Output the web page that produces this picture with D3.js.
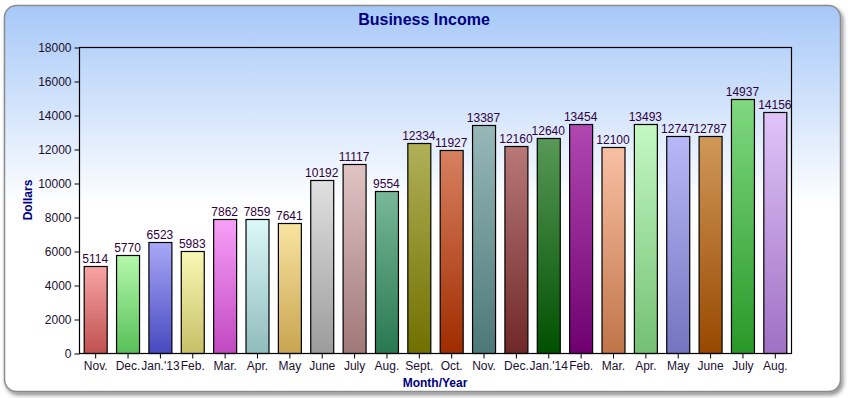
<!DOCTYPE html>
<html>
<head>
<meta charset="utf-8">
<script src="https://cdn.jsdelivr.net/npm/d3@7"></script>
<style>
  body { margin: 0; background: #fff; }
  text { font-family: "Liberation Sans", Arial, sans-serif; }
</style>
</head>
<body>
<script>
// chart data
const months = ['Nov.', 'Dec.', "Jan.'13", 'Feb.', 'Mar.', 'Apr.', 'May', 'June', 'July', 'Aug.', 'Sept.',
  'Oct.', 'Nov.', 'Dec.', "Jan.'14", 'Feb.', 'Mar.', 'Apr.', 'May', 'June', 'July', 'Aug.'];
const income = [5114, 5770, 6523, 5983, 7862, 7859, 7641, 10192, 11117, 9554, 12334,
  11927, 13387, 12160, 12640, 13454, 12100, 13493, 12747, 12787, 14937, 14156];
const topColors = ['#f8a4a4', '#b4f8ac', '#a8a8f8', '#f8f8b4', '#f8a0f8', '#dcf8f8', '#f8e4a0', '#e0e0e0',
  '#e0c4c4', '#78b898', '#b0b058', '#d88060', '#98b8b8', '#b87878', '#589858', '#b048b0', '#f8c0a4', '#c4f8c4',
  '#b8b8f8', '#d09858', '#80d880', '#e0c4f8'];
const bottomColors = ['#c05050', '#58c058', '#4848c0', '#c8c068', '#c048c0', '#90bcbc', '#c8a450', '#9c9c9c',
  '#a07878', '#287850', '#707000', '#a02c00', '#4c7878', '#702828', '#005000', '#700070', '#c07448', '#74c074',
  '#7474c0', '#984800', '#289828', '#a070c4'];
const yTicks = d3.range(0, 18001, 2000);

const width = 848, height = 398;
const plot = {left: 79, right: 791, top: 47, bottom: 353};

const svg = d3.select('body').append('svg').attr('width', width).attr('height', height);
const defs = svg.append('defs');

const bg = defs.append('linearGradient').attr('id', 'bg').attr('x1', 0).attr('y1', 0).attr('x2', 0).attr('y2', 1);
bg.append('stop').attr('offset', '0%').attr('stop-color', '#a6c8f8');
bg.append('stop').attr('offset', '52%').attr('stop-color', '#ffffff');
bg.append('stop').attr('offset', '100%').attr('stop-color', '#ffffff');

const shadow = defs.append('filter').attr('id', 'shadow').attr('x', '-5%').attr('y', '-5%')
  .attr('width', '110%').attr('height', '115%');
shadow.append('feDropShadow').attr('dx', 2).attr('dy', 3).attr('stdDeviation', 2)
  .attr('flood-color', '#000').attr('flood-opacity', 0.45);

months.forEach((m, i) => {
  const g = defs.append('linearGradient').attr('id', 'bar' + i)
    .attr('x1', 0).attr('y1', 0).attr('x2', 0).attr('y2', 1);
  g.append('stop').attr('offset', '0%').attr('stop-color', topColors[i]);
  g.append('stop').attr('offset', '100%').attr('stop-color', bottomColors[i]);
});

// panel
svg.append('rect')
  .attr('x', 4.5).attr('y', 5.5).attr('width', 836).attr('height', 386)
  .attr('rx', 12).attr('ry', 12)
  .attr('fill', 'url(#bg)').attr('stroke', '#8c8c8c').attr('stroke-width', 1.5)
  .attr('filter', 'url(#shadow)');

svg.append('text')
  .attr('x', 424).attr('y', 25)
  .attr('text-anchor', 'middle')
  .attr('font-size', 16).attr('font-weight', 'bold').attr('fill', '#000080')
  .text('Business Income');

const x = d3.scaleBand()
  .domain(d3.range(months.length))
  .range([plot.left, plot.right])
  .paddingInner(0.29).paddingOuter(0.145);

const y = d3.scaleLinear()
  .domain([0, 18000])
  .range([plot.bottom, plot.top]);

const $bars = svg.append('g');
$bars.selectAll('rect').data(income).enter().append('rect')
  .attr('x', (d, i) => x(i) + 0.5)
  .attr('y', d => Math.round(y(d)) + 0.5)
  .attr('width', x.bandwidth())
  .attr('height', d => plot.bottom - Math.round(y(d)))
  .attr('fill', (d, i) => `url(#bar${i})`)
  .attr('stroke', '#000').attr('stroke-width', 1.2);

$bars.selectAll('text').data(income).enter().append('text')
  .attr('x', (d, i) => x(i) + x.bandwidth() / 2)
  .attr('y', d => y(d) - 3)
  .attr('text-anchor', 'middle')
  .attr('font-size', 12).attr('fill', '#300040')
  .text(d => d);

// frame
svg.append('rect')
  .attr('x', plot.left + 0.5).attr('y', plot.top + 0.5)
  .attr('width', plot.right - plot.left).attr('height', plot.bottom - plot.top)
  .attr('fill', 'none').attr('stroke', '#000').attr('stroke-width', 1.2);

const yAxis = d3.axisLeft(y).tickValues(yTicks).tickSize(5).tickPadding(3).tickFormat(d3.format('d'));
svg.append('g')
  .attr('transform', `translate(${plot.left + 0.5},0.5)`)
  .call(yAxis)
  .call(g => g.select('.domain').remove())
  .call(g => g.selectAll('text').attr('font-size', 12).attr('fill', '#201030').style('font-family', '"Liberation Sans", Arial, sans-serif'));

const xAxis = d3.axisBottom(x).tickSize(5).tickPadding(3).tickFormat(i => months[i]);
svg.append('g')
  .attr('transform', `translate(0.5,${plot.bottom + 0.5})`)
  .call(xAxis)
  .call(g => g.select('.domain').remove())
  .call(g => g.selectAll('text').attr('font-size', 12).attr('fill', '#201030').style('font-family', '"Liberation Sans", Arial, sans-serif'));

svg.append('text')
  .attr('transform', 'translate(32,200) rotate(-90)')
  .attr('text-anchor', 'middle')
  .attr('font-size', 12).attr('font-weight', 'bold').attr('fill', '#000080')
  .text('Dollars');

svg.append('text')
  .attr('x', 435).attr('y', 387)
  .attr('text-anchor', 'middle')
  .attr('font-size', 12).attr('font-weight', 'bold').attr('fill', '#000080')
  .text('Month/Year');
</script>
</body>
</html>
